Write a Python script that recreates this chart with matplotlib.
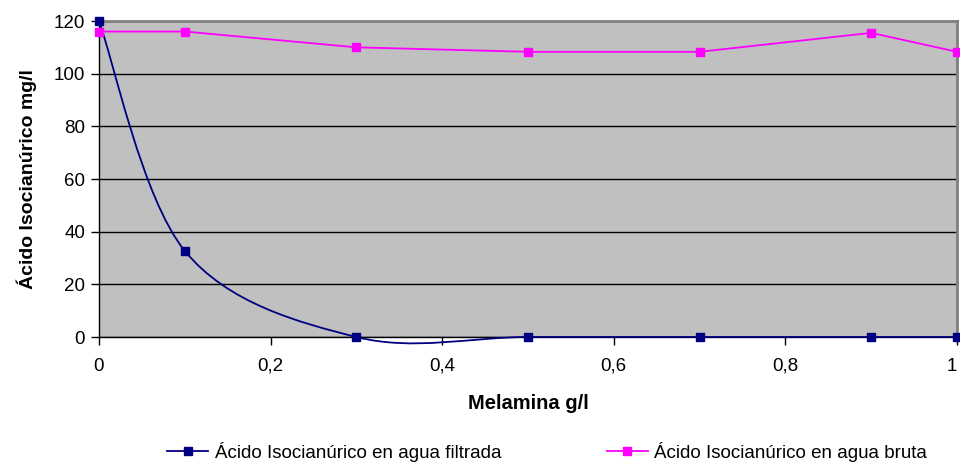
import numpy as np
import matplotlib.pyplot as plt
from matplotlib.path import Path
from matplotlib.patches import PathPatch
from matplotlib.lines import Line2D
from matplotlib.ticker import FuncFormatter

plt.rcParams['font.family'] = ['Liberation Sans', 'DejaVu Sans']

melamina = [0, 0.1, 0.3, 0.5, 0.7, 0.9, 1.0]
filtrada = [120, 32.7, 0, 0, 0, 0, 0]
bruta = [116, 116, 110, 108.3, 108.3, 115.5, 108.3]

azul = "#000080"
rosa = "#FF00FF"


def curva_suave(x, y):
    # Bezier tipo Catmull-Rom (parecido ao suavizado do Excel)
    p = np.column_stack((x, y)).astype(float)
    n = len(p)
    verts = [p[0]]
    codes = [Path.MOVETO]
    for i in range(n - 1):
        p0 = p[i - 1] if i > 0 else p[i]
        p3 = p[i + 2] if i + 2 < n else p[i + 1]
        c1 = p[i] + (p[i + 1] - p0) / 6
        c2 = p[i + 1] - (p3 - p[i]) / 6
        verts += [c1, c2, p[i + 1]]
        codes += [Path.CURVE4] * 3
    return Path(verts, codes)


fig = plt.figure(figsize=(9.6, 4.65), dpi=100)
ax = fig.add_axes([99 / 960, 128 / 465, 858 / 960, 316 / 465])
ax.set_facecolor("#C0C0C0")

ax.add_patch(PathPatch(curva_suave(melamina, filtrada), facecolor="none",
                       edgecolor=azul, lw=1.3, zorder=3, clip_on=False))
ax.plot(melamina, filtrada, ls="none", marker="s", ms=6, color=azul,
        zorder=4, clip_on=False)
ax.plot(melamina, bruta, color=rosa, lw=1.3, marker="s", ms=6, zorder=4,
        clip_on=False)

ax.set_xlim(0, 1)
ax.set_ylim(0, 120)
ax.set_xticks([0, 0.2, 0.4, 0.6, 0.8, 1.0])
ax.set_yticks(range(0, 121, 20))
ax.xaxis.set_major_formatter(FuncFormatter(lambda v, p: f"{v:g}".replace(".", ",")))
ax.yaxis.grid(True, color="black", lw=1)
ax.set_axisbelow(True)

ax.tick_params(axis="both", labelsize=13.5, length=6, width=1, colors="black",
               direction="out")
ax.tick_params(axis="x", pad=9)
ax.tick_params(axis="y", pad=4)
for lado in ["top", "right"]:
    ax.spines[lado].set_color("#808080")
    ax.spines[lado].set_linewidth(2)
for lado in ["left", "bottom"]:
    ax.spines[lado].set_color("black")
    ax.spines[lado].set_linewidth(1)

# o "1" fica encostado na borda direita
ax.get_xticklabels()[-1].set_horizontalalignment("right")

ax.set_xlabel("Melamina g/l", fontsize=14.5, fontweight="bold", labelpad=14)
ax.set_ylabel("Ácido Isocianúrico mg/l", fontsize=14, fontweight="bold",
              labelpad=12)

handles = [
    Line2D([], [], color=azul, lw=1.3, marker="s", ms=6),
    Line2D([], [], color=rosa, lw=1.3, marker="s", ms=6),
]
fig.legend(handles,
           ["Ácido Isocianúrico en agua filtrada",
            "Ácido Isocianúrico en agua bruta"],
           loc="center", bbox_to_anchor=(0.57, 0.028), ncol=2,
           frameon=False, fontsize=13.5, handlelength=2.2,
           handletextpad=0.35, columnspacing=5.6)

fig.savefig("out.png", dpi=100)
